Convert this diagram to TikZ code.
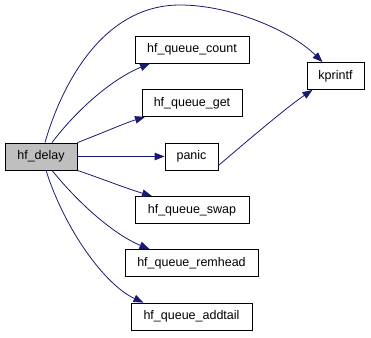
\documentclass[tikz,border=0pt]{standalone}
\usepackage{fontspec}
\setmainfont{Liberation Sans}
\usetikzlibrary{arrows.meta}
\definecolor{edgeblue}{HTML}{191970}
\definecolor{boxgray}{HTML}{BFBFBF}
\begin{document}
\begin{tikzpicture}[x=1pt,y=-1pt,
  fn/.style={draw=black, line width=0.8pt, fill=white, rectangle, inner sep=0pt,
    minimum height=27pt, font=\fontsize{12.5}{14}\selectfont},
  call/.style={draw=edgeblue, line width=0.8pt,
    -{Triangle[length=10pt,width=7.5pt,fill=edgeblue]}}]
\useasboundingbox (0,0) rectangle (371,337);
% nodes
\node[fn, fill=boxgray, minimum width=72pt] (delay) at (41,156.5) {hf\_delay};
\node[fn, minimum width=114pt] (count) at (192,49.5) {hf\_queue\_count};
\node[fn, minimum width=100pt] (get) at (192,103) {hf\_queue\_get};
\node[fn, minimum width=53pt] (panic) at (191.5,156.5) {panic};
\node[fn, minimum width=57pt] (kprintf) at (335.5,76) {kprintf};
\node[fn, minimum width=114pt] (swap) at (192,210) {hf\_queue\_swap};
\node[fn, minimum width=133pt] (remhead) at (191.5,263) {hf\_queue\_remhead};
\node[fn, minimum width=121pt] (addtail) at (191.5,316.5) {hf\_queue\_addtail};
% calls
\draw[call] ([xshift=4pt]delay.north) .. controls (60,90) and (100,5) .. (180,5)
  .. controls (230,5) and (290,30) .. ([xshift=-13pt]kprintf.north);
\draw[call] ([xshift=11pt]delay.north) .. controls (75,112) and (110,80) .. ([xshift=-42pt]count.south);
\draw[call] (delay.north east) .. controls (100,134) and (125,123) .. ([xshift=-47pt]get.south);
\draw[call] (delay.east) -- (panic.west);
\draw[call] ([yshift=-9pt]panic.east) .. controls (260,130) and (290,105) .. ([xshift=-23pt]kprintf.south);
\draw[call] (delay.south east) .. controls (100,178) and (125,188) .. ([xshift=-40pt]swap.north);
\draw[call] ([xshift=11pt]delay.south) .. controls (80,205) and (115,235) .. ([xshift=-42pt]remhead.north);
\draw[call] ([xshift=5pt]delay.south) .. controls (65,230) and (105,285) .. ([xshift=-48pt]addtail.north);
\end{tikzpicture}
\end{document}
